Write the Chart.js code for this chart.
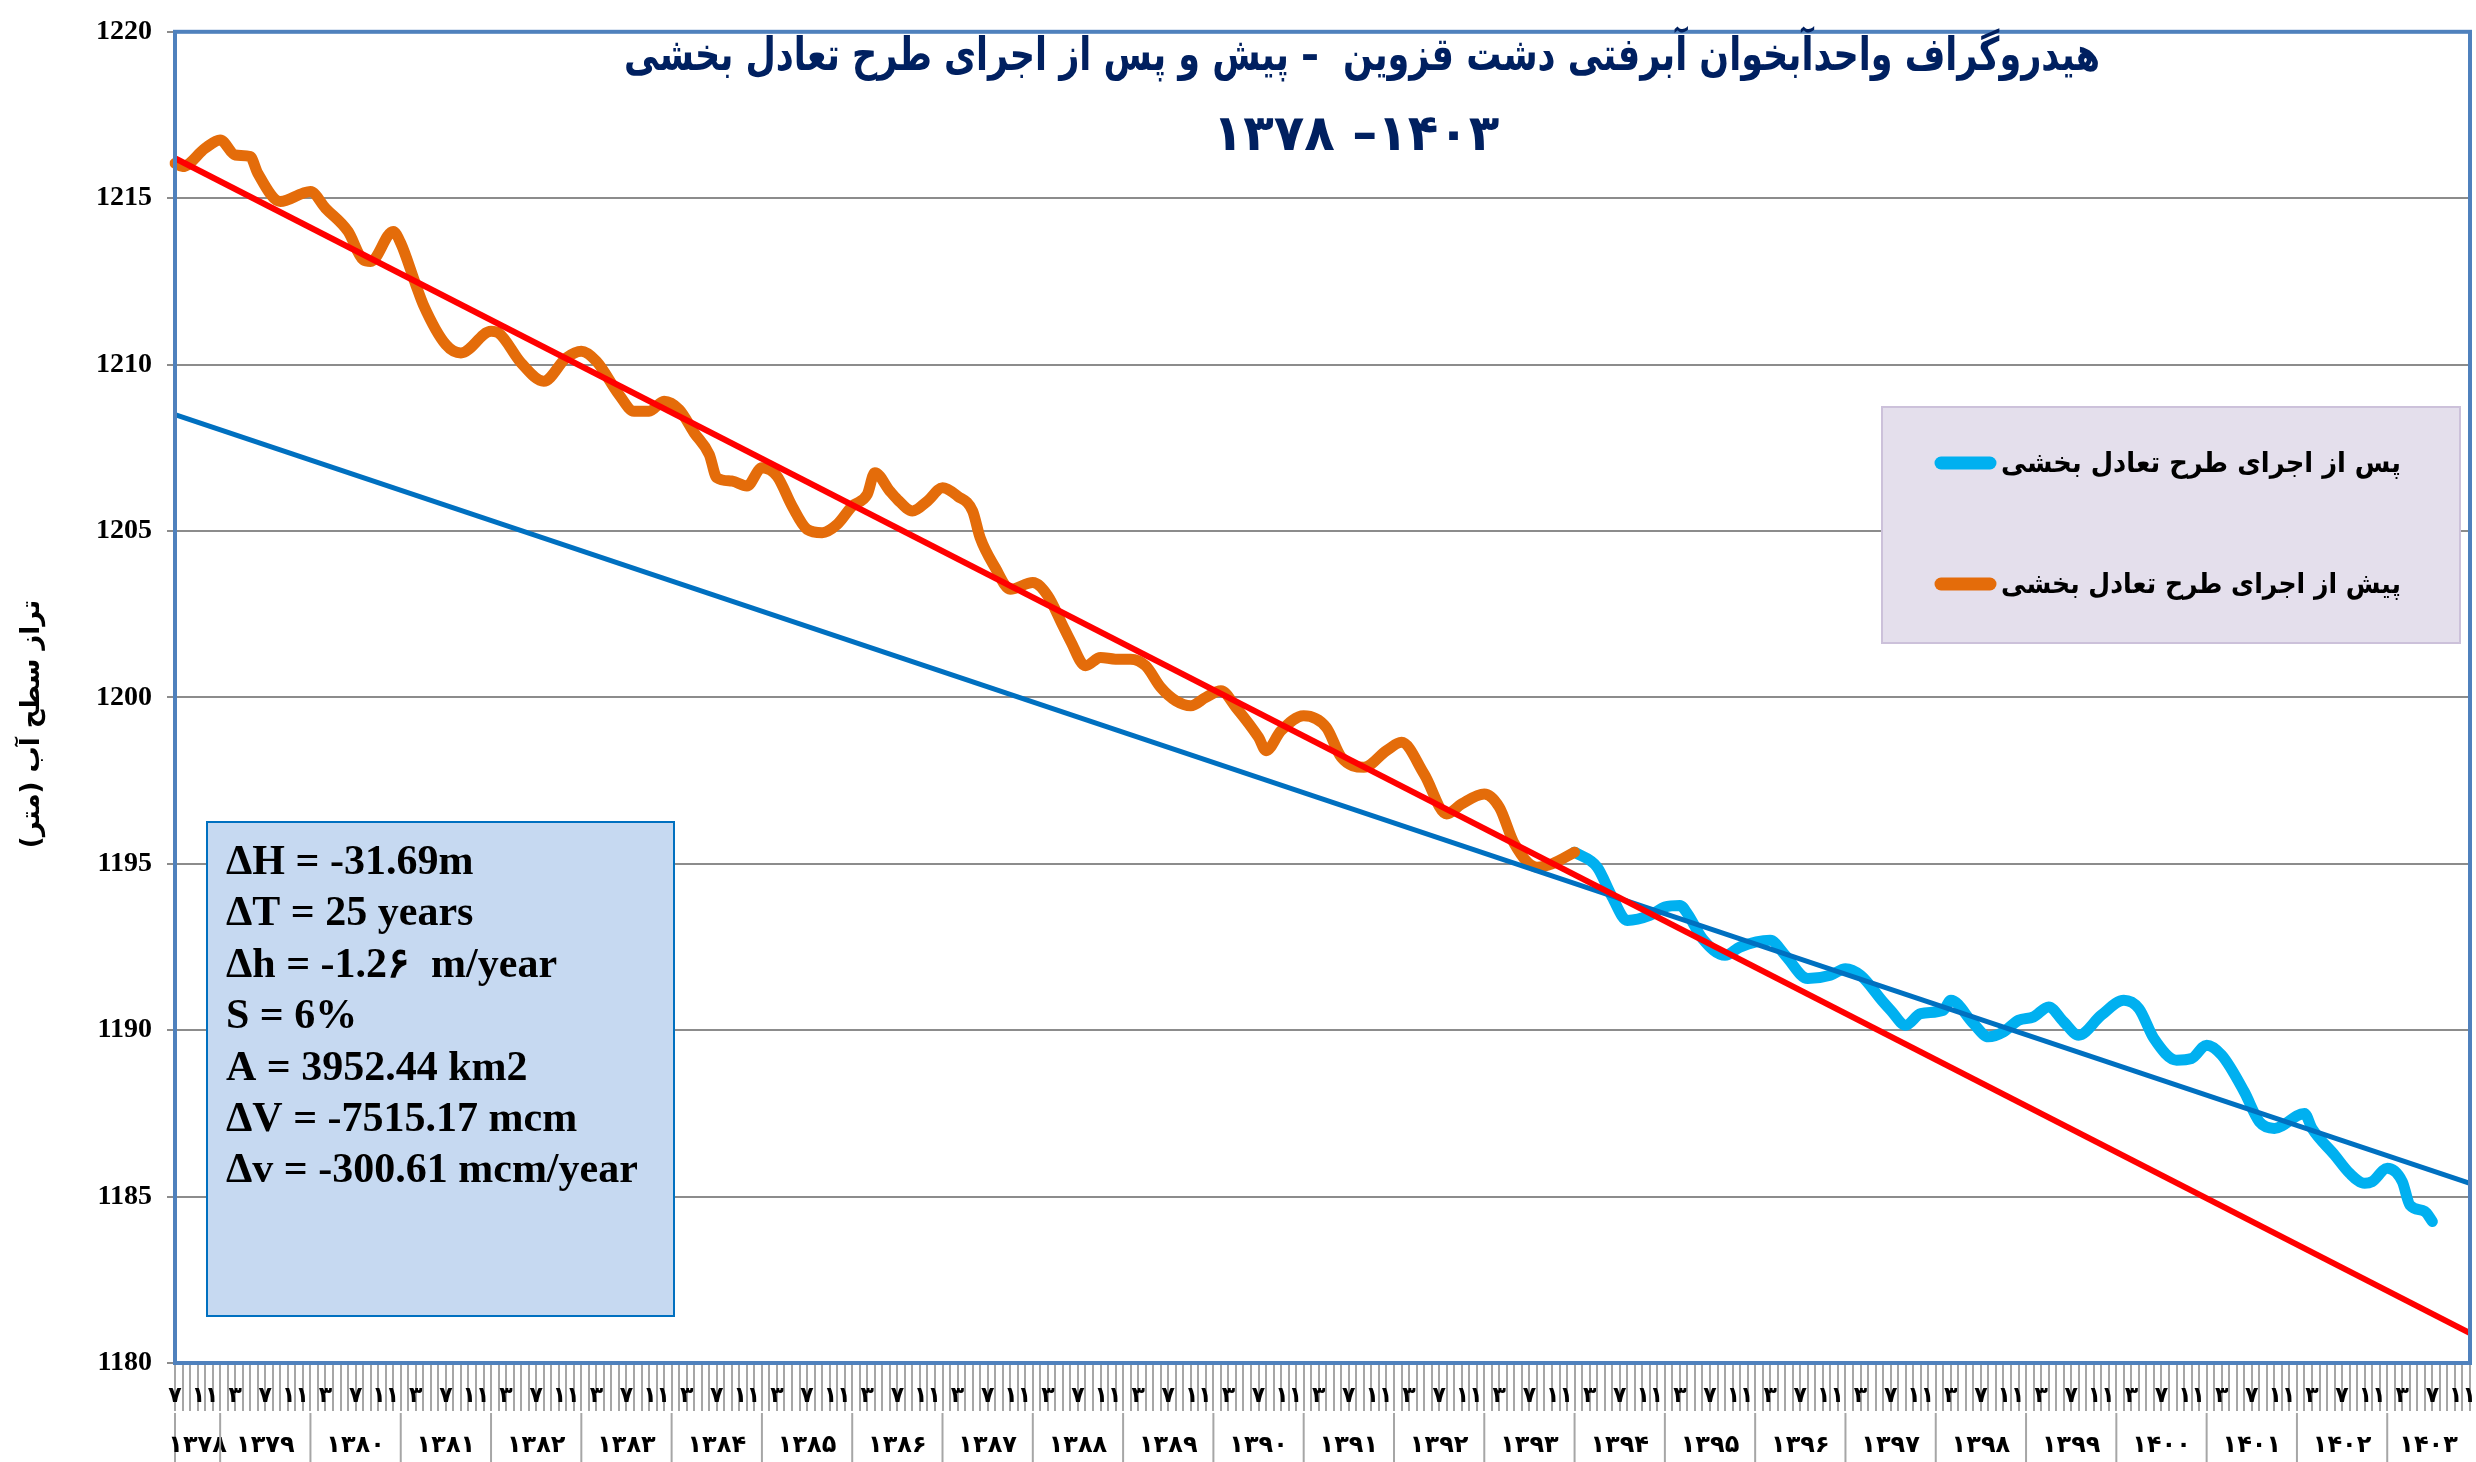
<!DOCTYPE html>
<html lang="fa">
<head>
<meta charset="UTF-8">
<title>هیدروگراف دشت قزوین</title>
<script src="https://cdn.jsdelivr.net/npm/chart.js@4.4.1/dist/chart.umd.min.js"></script>
<style>
    body { margin: 0; background: #fff; }
</style>
</head>
<body>
<canvas id="canvas" width="2476" height="1462"></canvas>
<script>
    // سال‌ها - سری از مهر ۱۳۷۸ شروع می‌شود
    const years = [1378, 1379, 1380, 1381, 1382, 1383, 1384, 1385, 1386, 1387, 1388, 1389, 1390,
        1391, 1392, 1393, 1394, 1395, 1396, 1397, 1398, 1399, 1400, 1401, 1402, 1403];
    const firstMonth = 7;

    // پیش از اجرای طرح (شماره ماه از ابتدای سری، تراز متر)
    const preMonth = [0, 1, 4, 6, 8, 10, 11, 14, 17, 18, 20, 23, 25, 26, 29, 30, 32, 33, 36, 38,
        42, 43, 46, 49, 52, 54, 56, 59, 61, 63, 65, 67, 69, 71, 72, 74, 76, 78, 80, 82,
        84, 86, 88, 90, 92, 93, 95, 96, 98, 100, 102, 104, 106, 107, 109, 111, 114, 116, 118, 119,
        121, 123, 125, 127, 129, 131, 133, 135, 137, 139, 141, 144, 145, 147, 150, 153, 155, 158, 161, 163,
        166, 169, 171, 174, 176, 178, 181, 183, 186];
    const preLevel = [1216.05, 1215.95, 1216.5, 1216.75, 1216.3, 1216.25, 1215.75, 1214.9, 1215.15, 1215.2,
        1214.7, 1214.0, 1213.15, 1213.1, 1214.0, 1213.65, 1212.4, 1211.8, 1210.6, 1210.35,
        1211.0, 1210.95, 1210.05, 1209.5, 1210.2, 1210.4, 1210.1, 1209.1, 1208.6, 1208.6,
        1208.9, 1208.65, 1207.95, 1207.3, 1206.6, 1206.5, 1206.35, 1206.9, 1206.65, 1205.75,
        1205.05, 1204.95, 1205.2, 1205.75, 1206.1, 1206.75, 1206.2, 1205.95, 1205.6, 1205.9,
        1206.3, 1206.05, 1205.6, 1204.8, 1203.9, 1203.25, 1203.45, 1203.05, 1202.15, 1201.7,
        1200.95, 1201.2, 1201.15, 1201.15, 1200.95, 1200.3, 1199.9, 1199.75, 1200.0, 1200.2,
        1199.7, 1198.8, 1198.4, 1199.0, 1199.45, 1199.1, 1198.2, 1197.9, 1198.4, 1198.65,
        1197.7, 1196.5, 1196.8, 1197.1, 1196.7, 1195.6, 1194.9, 1195.0, 1195.35];

    // پس از اجرای طرح
    const postMonth = [186, 189, 191, 193, 196, 198, 200, 201, 203, 206, 208, 212, 214, 217, 220, 222, 224, 227, 228, 230,
        232, 235, 236, 239, 241, 243, 245, 247, 249, 251, 253, 256, 259, 261, 263, 266, 268, 270, 272, 275,
        277, 279, 283, 284, 287, 289, 291, 292, 294, 296, 297, 299, 300];
    const postLevel = [1195.35, 1194.9, 1194.0, 1193.3, 1193.45, 1193.7, 1193.75, 1193.5, 1192.75, 1192.25,
        1192.5, 1192.7, 1192.25, 1191.55, 1191.65, 1191.85, 1191.65, 1190.85, 1190.6, 1190.15,
        1190.5, 1190.6, 1190.9, 1190.2, 1189.8, 1189.95, 1190.3, 1190.4, 1190.7, 1190.25,
        1189.85, 1190.45, 1190.9, 1190.65, 1189.75, 1189.1, 1189.15, 1189.55, 1189.25, 1188.15,
        1187.25, 1187.05, 1187.5, 1187.05, 1186.25, 1185.7, 1185.4, 1185.45, 1185.85, 1185.45,
        1184.75, 1184.55, 1184.25];

    // خطوط روند (مقدار در ابتدا و انتهای محور)
    const preTrend = [1216.2, 1180.9];
    const postTrend = [1208.5, 1185.4];

    const yTicks = [1180, 1185, 1190, 1195, 1200, 1205, 1210, 1215, 1220];

    const titleLines = ['هیدروگراف واحدآبخوان آبرفتی دشت قزوین  – پیش و پس از اجرای طرح تعادل بخشی', '۱۳۷۸ –۱۴۰۳'];
    const yTitle = 'تراز سطح آب (متر)';
    const statsLines = ['ΔH = -31.69m', 'ΔT = 25 years', 'Δh = -1.2۶  m/year', 'S = 6%',
        'A = 3952.44 km2', 'ΔV = -7515.17 mcm', 'Δv = -300.61 mcm/year'];

    const fa = n => String(n).replace(/\d/g, d => '۰۱۲۳۴۵۶۷۸۹'[d]);

    // برچسب ماه‌ها
    let monthLabels = [];
    years.forEach(function (y) {
        for (let m = (y === years[0] ? firstMonth : 1); m <= 12; m++) monthLabels.push(y + '/' + m);
    });
    const last = monthLabels.length - 1;

    function place(idx, vals) {
        let arr = new Array(monthLabels.length).fill(null);
        idx.forEach(function (k, i) { arr[k] = vals[i]; });
        return arr;
    }

    const decor = {
        id: 'decor',
        afterDatasetsDraw(chart) {
            const ctx = chart.ctx;
            const a = chart.chartArea;
            const x = chart.scales.x;
            ctx.save();

            // plot frame
            ctx.strokeStyle = '#4F81BD';
            ctx.lineWidth = 4;
            ctx.strokeRect(a.left, a.top, a.right - a.left, a.bottom - a.top);

            // title
            ctx.fillStyle = '#002060';
            ctx.textAlign = 'center';
            ctx.textBaseline = 'middle';
            ctx.direction = 'rtl';
            ctx.font = 'bold 46px "DejaVu Sans"';
            ctx.fillText(titleLines[0], 1362, 58, 1476);
            ctx.direction = 'ltr';
            ctx.font = 'bold 50px "DejaVu Sans"';
            ctx.fillText(titleLines[1], 1356, 137);

            // y axis title
            ctx.save();
            ctx.translate(32, 724);
            ctx.rotate(-Math.PI / 2);
            ctx.direction = 'rtl';
            ctx.fillStyle = '#000';
            ctx.font = 'bold 26px "DejaVu Sans"';
            ctx.fillText(yTitle, 0, 0);
            ctx.restore();

            // year row under the month ticks
            ctx.strokeStyle = '#A6A6A6';
            ctx.lineWidth = 2;
            ctx.fillStyle = '#000';
            ctx.font = 'bold 24px "DejaVu Sans"';
            ctx.direction = 'ltr';
            let start = 0;
            years.forEach(function (y, i) {
                const count = i === 0 ? 13 - firstMonth : 12;
                const end = Math.min(start + count, last);
                const xs = x.getPixelForValue(start);
                const xe = x.getPixelForValue(end);
                ctx.beginPath();
                ctx.moveTo(xs, a.bottom + 50);
                ctx.lineTo(xs, 1462);
                ctx.stroke();
                ctx.fillText(fa(y), (xs + xe) / 2, 1446);
                start += count;
            });

            // stats box
            ctx.fillStyle = '#C6D9F1';
            ctx.fillRect(207, 822, 467, 494);
            ctx.strokeStyle = '#0070C0';
            ctx.lineWidth = 2;
            ctx.strokeRect(207, 822, 467, 494);
            ctx.fillStyle = '#000';
            ctx.textAlign = 'left';
            ctx.textBaseline = 'alphabetic';
            ctx.font = 'bold 42px "Liberation Serif"';
            statsLines.forEach(function (t, i) {
                ctx.fillText(t, 226, 874 + i * 51.4);
            });

            // legend box
            ctx.fillStyle = '#E4DFEC';
            ctx.fillRect(1882, 407, 578, 236);
            ctx.strokeStyle = '#CCC1DA';
            ctx.lineWidth = 2;
            ctx.strokeRect(1882, 407, 578, 236);
            const items = [chart.data.datasets[3], chart.data.datasets[2]];
            items.forEach(function (ds, i) {
                const yy = 463 + i * 121;
                ctx.strokeStyle = ds.borderColor;
                ctx.lineWidth = 13;
                ctx.lineCap = 'round';
                ctx.beginPath();
                ctx.moveTo(1941, yy);
                ctx.lineTo(1990, yy);
                ctx.stroke();
                ctx.fillStyle = '#000';
                ctx.direction = 'rtl';
                ctx.textAlign = 'left';
                ctx.textBaseline = 'middle';
                ctx.font = 'bold 28px "DejaVu Sans"';
                ctx.fillText(ds.label, 2001, yy + 2, 400);
            });

            ctx.restore();
        }
    };

    let canvas = document.getElementById('canvas');
    let ctx = canvas.getContext('2d');
    let config = {
        type: 'line',
        data: {
            labels: monthLabels,
            datasets: [{
                label: 'روند پیش از اجرا',
                data: place([0, last], preTrend),
                borderColor: '#FF0000',
                borderWidth: 6,
                spanGaps: true
            }, {
                label: 'روند پس از اجرا',
                data: place([0, last], postTrend),
                borderColor: '#0070C0',
                borderWidth: 5,
                spanGaps: true
            }, {
                label: 'پیش از اجرای طرح تعادل بخشی',
                data: place(preMonth, preLevel),
                borderColor: '#E46C0A',
                borderWidth: 11,
                spanGaps: true,
                cubicInterpolationMode: 'monotone',
                borderCapStyle: 'round',
                borderJoinStyle: 'round'
            }, {
                label: 'پس از اجرای طرح تعادل بخشی',
                data: place(postMonth, postLevel),
                borderColor: '#00B0F0',
                borderWidth: 11,
                spanGaps: true,
                cubicInterpolationMode: 'monotone',
                borderCapStyle: 'round',
                borderJoinStyle: 'round'
            }]
        },
        options: {
            responsive: false,
            animation: false,
            layout: { padding: { top: 24, right: 6, left: 0, bottom: 0 } },
            elements: { point: { radius: 0 } },
            plugins: {
                legend: { display: false },
                tooltip: { enabled: false }
            },
            scales: {
                x: {
                    type: 'category',
                    offset: false,
                    border: { display: false },
                    grid: { drawOnChartArea: false, drawTicks: true, tickLength: 48, color: '#A6A6A6', lineWidth: 2 },
                    ticks: {
                        autoSkip: false,
                        maxRotation: 0,
                        minRotation: 0,
                        padding: -28,
                        color: '#000',
                        font: { family: 'DejaVu Sans', weight: 'bold', size: 22 },
                        callback: function (v, i) {
                            return i % 4 === 0 ? fa(monthLabels[i].split('/')[1]) : '';
                        }
                    },
                    afterFit: function (s) { s.height = 99; }
                },
                y: {
                    min: yTicks[0],
                    max: yTicks[yTicks.length - 1],
                    border: { display: false },
                    grid: { color: '#8C8C8C', lineWidth: 2, tickLength: 8 },
                    ticks: {
                        stepSize: 5,
                        padding: 15,
                        color: '#000',
                        font: { family: 'Liberation Serif', weight: 'bold', size: 28 },
                        callback: function (v) { return String(v); }
                    },
                    afterFit: function (s) { s.width = 175; }
                }
            }
        },
        plugins: [decor]
    };

    let chart = new Chart(ctx, config);
</script>
</body>
</html>
